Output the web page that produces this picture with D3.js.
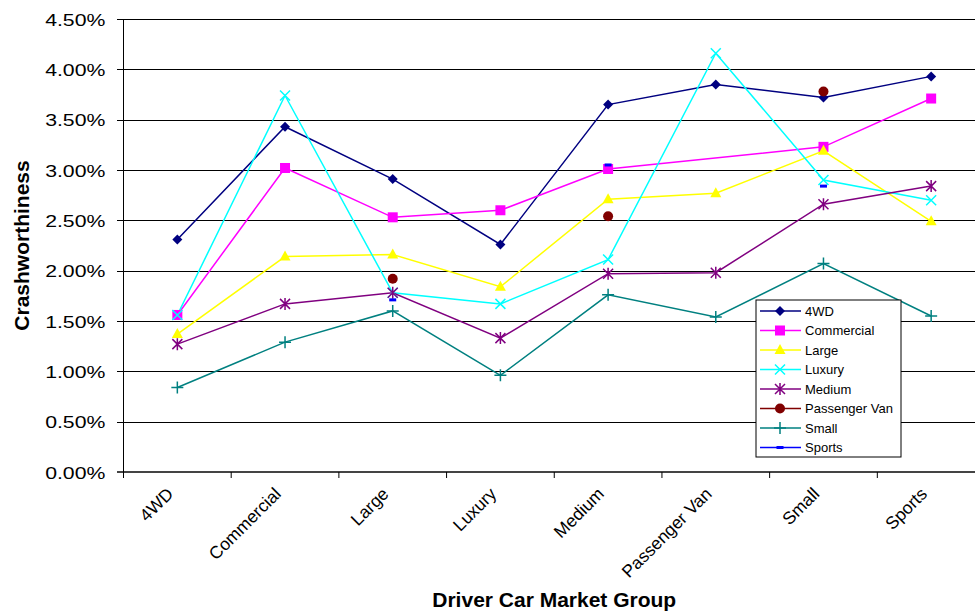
<!DOCTYPE html>
<html>
<head>
<meta charset="utf-8">
<script src="https://cdn.jsdelivr.net/npm/d3@7"></script>
<style>
  body { margin: 0; background: #fff; }
  text { font-family: "Liberation Sans", Arial, sans-serif; }
</style>
</head>
<body>
<div id="chart"></div>
<script>
// data (percent)
let categories = ["4WD", "Commercial", "Large", "Luxury", "Medium", "Passenger Van", "Small", "Sports"]
let fourWD = [2.31, 3.43, 2.91, 2.26, 3.65, 3.85, 3.72, 3.93]
let commercial = [1.56, 3.02, 2.53, 2.60, 3.01, null, 3.23, 3.71]
let large = [1.37, 2.14, 2.16, 1.84, 2.71, 2.77, 3.19, 2.49]
let luxury = [1.56, 3.74, 1.78, 1.67, 2.11, 4.16, 2.90, 2.70]
let medium = [1.27, 1.67, 1.78, 1.33, 1.97, 1.98, 2.66, 2.84]
let passengerVan = [null, null, 1.92, null, 2.54, null, 3.78, null]
let small = [0.84, 1.29, 1.60, 0.96, 1.76, 1.54, 2.07, 1.55]
let sports = [null, null, 1.71, null, 3.05, null, 2.84, null]
let yTicks = [0, 0.5, 1, 1.5, 2, 2.5, 3, 3.5, 4, 4.5]
// series whose missing value is bridged by the line
let bridged = ["Commercial"]

let series = [
  { name: "4WD", values: fourWD, color: "#000080", marker: "diamond" },
  { name: "Commercial", values: commercial, color: "#ff00ff", marker: "square" },
  { name: "Large", values: large, color: "#ffff00", marker: "triangle" },
  { name: "Luxury", values: luxury, color: "#00ffff", marker: "times" },
  { name: "Medium", values: medium, color: "#800080", marker: "star" },
  { name: "Passenger Van", values: passengerVan, color: "#800000", marker: "circle" },
  { name: "Small", values: small, color: "#008080", marker: "plus" },
  { name: "Sports", values: sports, color: "#0000ff", marker: "dash" },
]

let svg = d3.select("#chart")
  .append("svg")
  .attr("width", 975)
  .attr("height", 611)

let plotLeft = 123.5, plotRight = 985, plotTop = 19, plotBottom = 472

let x = d3.scaleBand().domain(categories).range([plotLeft, plotRight]).padding(0)
let y = d3.scaleLinear().domain([0, 4.5]).range([plotBottom, plotTop])

// y axis + gridlines
let gy = svg.append("g")
  .attr("transform", `translate(${plotLeft},0)`)
  .call(d3.axisLeft(y).tickValues(yTicks).tickSize(6.5).tickFormat(d => d.toFixed(2) + "%"))
gy.select(".domain").remove()
gy.selectAll(".tick line")
  .attr("x1", -6.5)
  .attr("x2", plotRight - plotLeft)
  .attr("stroke", "#000")
  .attr("shape-rendering", "crispEdges")
gy.selectAll(".tick text")
  .attr("x", -14.5)
  .attr("dy", "0.36em")
  .attr("font-size", "17px")
  .attr("fill", "#000")
  .attr("transform", "scale(1.25,1)")

// x axis
let gx = svg.append("g")
  .attr("transform", `translate(0,${plotBottom})`)
  .call(d3.axisBottom(x).tickSize(0).tickFormat(""))
gx.select(".domain").remove()
gx.append("line")
  .attr("x1", plotLeft - 6.5).attr("x2", plotRight)
  .attr("stroke", "#444").attr("stroke-width", 2)
gx.selectAll(".edge")
  .data(categories.concat([null]))
  .enter()
  .append("line")
  .attr("class", "edge")
  .attr("x1", (d, i) => i < categories.length ? x(d) : plotRight)
  .attr("x2", (d, i) => i < categories.length ? x(d) : plotRight)
  .attr("y1", 0).attr("y2", 6)
  .attr("stroke", "#000")
gx.selectAll(".lab")
  .data(categories)
  .enter()
  .append("text")
  .attr("class", "lab")
  .attr("transform", d => `translate(${x(d) + x.bandwidth() / 2 - 3},23) rotate(-45)`)
  .attr("text-anchor", "end")
  .attr("font-size", "17.5px")
  .attr("fill", "#000")
  .text(d => d)

svg.append("line")
  .attr("x1", plotLeft).attr("x2", plotLeft)
  .attr("y1", plotTop).attr("y2", plotBottom + 5)
  .attr("stroke", "#000")

// axis titles
svg.append("text")
  .attr("transform", `translate(29,${(plotTop + plotBottom) / 2}) rotate(-90)`)
  .attr("text-anchor", "middle")
  .attr("font-size", "21px")
  .attr("font-weight", "bold")
  .text("Crashworthiness")

svg.append("text")
  .attr("x", (plotLeft + plotRight) / 2)
  .attr("y", 607)
  .attr("text-anchor", "middle")
  .attr("font-size", "21px")
  .attr("font-weight", "bold")
  .text("Driver Car Market Group")

// markers
function drawMarker(g, type, color) {
  if (type === "diamond") {
    g.append("path").attr("d", "M0,-5L5,0L0,5L-5,0Z").attr("fill", color)
  } else if (type === "square") {
    g.append("rect").attr("x", -5).attr("y", -5).attr("width", 10).attr("height", 10).attr("fill", color)
  } else if (type === "triangle") {
    g.append("path").attr("d", "M0,-6L5.5,4L-5.5,4Z").attr("fill", color)
  } else if (type === "times") {
    g.append("path").attr("d", "M-5,-5L5,5M-5,5L5,-5").attr("stroke", color).attr("stroke-width", 1.5)
  } else if (type === "star") {
    g.append("path").attr("d", "M-5,-5L5,5M-5,5L5,-5M0,-6L0,6").attr("stroke", color).attr("stroke-width", 1.5)
  } else if (type === "circle") {
    g.append("circle").attr("r", 5).attr("fill", color)
  } else if (type === "plus") {
    g.append("path").attr("d", "M-6,0L6,0M0,-6L0,6").attr("stroke", color).attr("stroke-width", 1.5)
  } else if (type === "dash") {
    g.append("rect").attr("x", -3.5).attr("y", -1.5).attr("width", 7).attr("height", 3).attr("fill", color)
  }
}

let cx = i => x(categories[i]) + x.bandwidth() / 2

series.forEach(function (s) {
  let pts = s.values.map((v, i) => ({ v: v, i: i }))
  if (bridged.includes(s.name)) pts = pts.filter(p => p.v != null)
  let line = d3.line()
    .defined(p => p.v != null)
    .x(p => cx(p.i))
    .y(p => y(p.v))
  svg.append("path")
    .datum(pts)
    .attr("d", line)
    .attr("fill", "none")
    .attr("stroke", s.color)
    .attr("stroke-width", 1.5)
})

series.forEach(function (s) {
  s.values.forEach(function (v, i) {
    if (v == null) return
    let g = svg.append("g").attr("transform", `translate(${cx(i)},${y(v)})`)
    drawMarker(g, s.marker, s.color)
  })
})

// legend
let legend = svg.append("g").attr("transform", "translate(756,300)")
legend.append("rect")
  .attr("width", 145).attr("height", 157)
  .attr("fill", "#fff").attr("stroke", "#000")
series.forEach(function (s, i) {
  let row = legend.append("g").attr("transform", `translate(0,${11 + i * 19.5})`)
  row.append("line")
    .attr("x1", 4).attr("x2", 45)
    .attr("stroke", s.color).attr("stroke-width", 1.5)
  drawMarker(row.append("g").attr("transform", "translate(24,0)"), s.marker, s.color)
  row.append("text")
    .attr("x", 49)
    .attr("dy", "0.35em")
    .attr("font-size", "13px")
    .text(s.name)
})
</script>
</body>
</html>
